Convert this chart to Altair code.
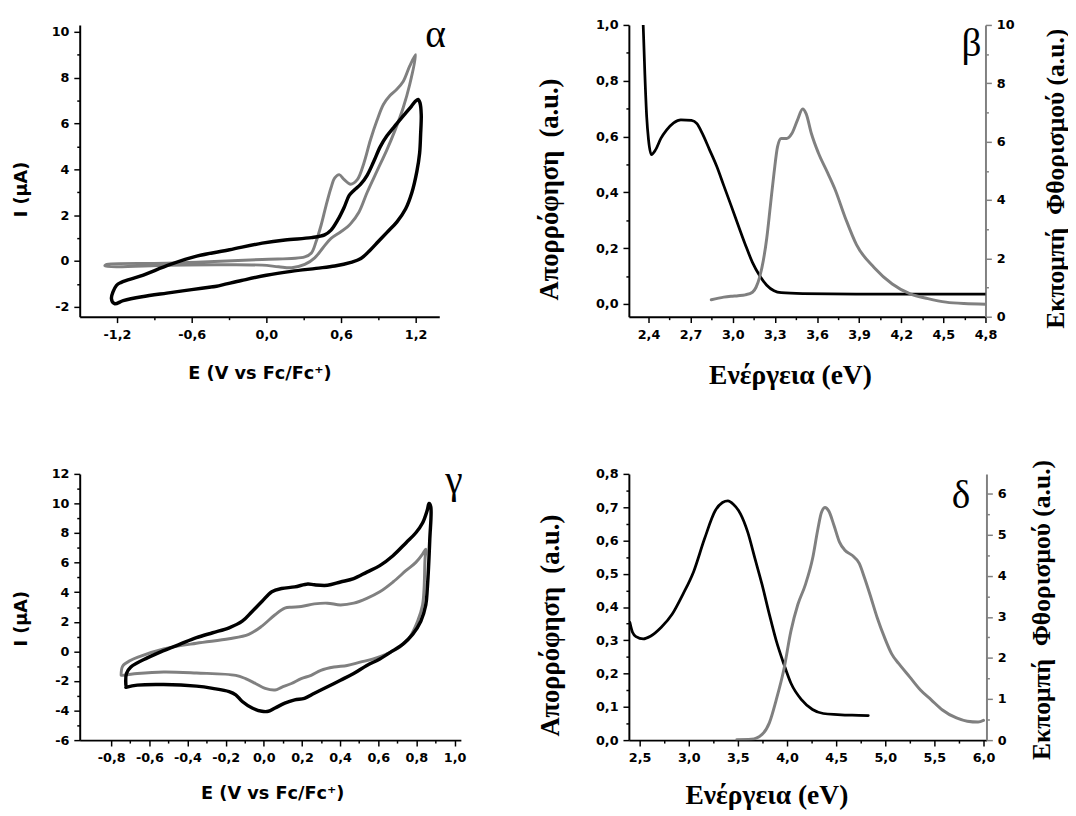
import altair as alt
import pandas as pd

BLACK = "#000000"
GRAY = "#808080"
SANS = "DejaVu Sans"
SERIF = "Liberation Serif"

# ---------------- panel α : cyclic voltammetry ----------------
A_BLACK_X = [-0.40, -0.60, -0.80, -1.00, -1.15, -1.22, -1.245, -1.205, -1.166, -1.008, -0.771, -0.560,
             -0.296, -0.033, 0.151, 0.362, 0.468, 0.520, 0.573, 0.626, 0.665, 0.705, 0.757, 0.810,
             0.863, 0.915, 0.968, 1.047, 1.113, 1.166, 1.200, 1.220, 1.235, 1.245, 1.240, 1.232,
             1.210, 1.170, 1.120, 1.050, 0.970, 0.900, 0.830, 0.760, 0.680, 0.550, 0.400, 0.200,
             0.000, -0.200, -0.400, -0.450]
A_BLACK_Y = [-1.10, -1.25, -1.40, -1.56, -1.73, -1.86, -1.64, -1.07, -0.93, -0.65, -0.15, 0.21,
             0.49, 0.78, 0.92, 1.02, 1.14, 1.35, 1.78, 2.35, 2.85, 3.09, 3.34, 3.74,
             4.34, 4.98, 5.45, 5.98, 6.41, 6.75, 6.98, 7.05, 6.90, 6.40, 5.51, 4.70,
             3.91, 2.99, 2.28, 1.71, 1.25, 0.85, 0.45, 0.11, -0.06, -0.22, -0.32, -0.45,
             -0.62, -0.85, -1.10, -1.14]
A_GRAY_X = [-0.40, -0.80, -1.297, -1.29, -0.80, -0.56, -0.033, 0.309, 0.362, 0.40, 0.44, 0.48,
            0.52, 0.55, 0.586, 0.626, 0.678, 0.731, 0.784, 0.836, 0.889, 0.942, 0.994, 1.047,
            1.10, 1.152, 1.20, 1.152, 1.10, 1.034, 0.968, 0.889, 0.81, 0.744, 0.678, 0.652,
            0.599, 0.52, 0.454, 0.389, 0.309, 0.204, 0.099, -0.033, -0.296, -0.40]
A_GRAY_Y = [-0.16, -0.19, -0.21, -0.16, -0.10, -0.05, 0.07, 0.18, 0.35, 0.85, 1.56, 2.42,
            3.20, 3.63, 3.77, 3.55, 3.35, 3.55, 4.27, 5.27, 6.13, 6.84, 7.22, 7.48,
            7.83, 8.50, 9.00, 7.69, 6.69, 5.70, 4.84, 3.92, 2.99, 2.13, 1.63, 1.49,
            1.28, 0.99, 0.57, 0.14, -0.15, -0.29, -0.25, -0.18, -0.16, -0.16]

# ---------------- panel β : absorption / emission ----------------
B_ABS_X = [2.358, 2.362, 2.374, 2.387, 2.400, 2.420, 2.451, 2.489, 2.528, 2.579, 2.630, 2.706,
           2.745, 2.783, 2.834, 2.885, 2.936, 2.987, 3.038, 3.089, 3.140, 3.191, 3.242, 3.294,
           3.345, 3.498, 4.008, 4.800]
B_ABS_Y = [1.05, 1.00, 0.822, 0.670, 0.588, 0.535, 0.553, 0.594, 0.623, 0.649, 0.660, 0.658,
           0.646, 0.611, 0.553, 0.494, 0.424, 0.354, 0.283, 0.213, 0.149, 0.102, 0.067, 0.047,
           0.040, 0.037, 0.035, 0.035]
B_EM_X = [2.847, 2.936, 2.987, 3.038, 3.089, 3.140, 3.166, 3.191, 3.217, 3.242, 3.268, 3.294,
          3.319, 3.345, 3.383, 3.421, 3.460, 3.498, 3.523, 3.560, 3.610, 3.676, 3.728, 3.804,
          3.881, 4.008, 4.136, 4.264, 4.390, 4.519, 4.647, 4.800]
B_EM_Y = [0.58, 0.67, 0.70, 0.72, 0.75, 0.84, 1.01, 1.35, 1.91, 2.69, 3.81, 4.93,
          5.83, 6.11, 6.11, 6.28, 6.73, 7.12, 6.95, 6.28, 5.61, 4.93, 4.37, 3.36,
          2.47, 1.68, 1.12, 0.78, 0.62, 0.50, 0.45, 0.43]

# ---------------- panel γ : cyclic voltammetry ----------------
G_BLACK_X = [-0.723, -0.720, -0.697, -0.611, -0.525, -0.439, -0.353, -0.268, -0.182, -0.113, -0.061, -0.010,
             0.042, 0.093, 0.162, 0.231, 0.265, 0.334, 0.402, 0.471, 0.540, 0.608, 0.677, 0.746,
             0.797, 0.832, 0.857, 0.866, 0.875, 0.870, 0.857, 0.849, 0.823, 0.780, 0.729, 0.677,
             0.608, 0.540, 0.471, 0.402, 0.334, 0.265, 0.213, 0.162, 0.110, 0.059, 0.024, -0.010,
             -0.061, -0.113, -0.147, -0.182, -0.268, -0.353, -0.525, -0.663, -0.723]
G_BLACK_Y = [-2.28, -1.50, -1.06, -0.44, 0.05, 0.49, 0.93, 1.26, 1.59, 2.04, 2.70, 3.37,
             4.03, 4.25, 4.36, 4.56, 4.50, 4.47, 4.69, 4.92, 5.36, 5.80, 6.47, 7.35,
             8.02, 8.68, 9.56, 10.0, 9.79, 7.57, 4.25, 3.14, 2.04, 1.15, 0.49, 0.05,
             -0.51, -0.95, -1.50, -1.95, -2.39, -2.83, -3.17, -3.28, -3.50, -3.83, -4.05, -4.05,
             -3.83, -3.39, -2.94, -2.72, -2.50, -2.35, -2.24, -2.28, -2.43]
G_GRAY_X = [-0.748, -0.740, -0.700, -0.663, -0.525, -0.353, -0.182, -0.079, -0.010, 0.059, 0.110, 0.145,
            0.196, 0.265, 0.334, 0.402, 0.471, 0.540, 0.608, 0.677, 0.746, 0.797, 0.832, 0.849,
            0.845, 0.840, 0.832, 0.806, 0.763, 0.711, 0.643, 0.574, 0.505, 0.437, 0.368, 0.299,
            0.248, 0.196, 0.145, 0.093, 0.059, 0.007, -0.044, -0.096, -0.147, -0.353, -0.525, -0.663,
            -0.740]
G_GRAY_Y = [-1.62, -1.00, -0.62, -0.40, 0.16, 0.55, 0.85, 1.15, 1.71, 2.48, 2.92, 2.99,
            3.03, 3.21, 3.26, 3.14, 3.26, 3.59, 4.03, 4.69, 5.47, 6.02, 6.58, 6.91,
            6.24, 4.25, 3.14, 2.04, 0.93, 0.27, -0.18, -0.51, -0.73, -0.95, -1.06, -1.28,
            -1.62, -1.84, -2.17, -2.43, -2.61, -2.50, -2.17, -1.84, -1.62, -1.46, -1.39, -1.50,
            -1.62]

# ---------------- panel δ : absorption / emission ----------------
D_ABS_X = [2.400, 2.427, 2.463, 2.537, 2.610, 2.720, 2.830, 2.940, 3.050, 3.160, 3.270, 3.343,
           3.398, 3.453, 3.526, 3.600, 3.673, 3.746, 3.820, 3.890, 3.966, 4.040, 4.149, 4.259,
           4.369, 4.515, 4.662, 4.827]
D_ABS_Y = [0.354, 0.324, 0.311, 0.304, 0.312, 0.339, 0.378, 0.438, 0.507, 0.605, 0.690, 0.714,
           0.719, 0.709, 0.680, 0.625, 0.546, 0.467, 0.378, 0.299, 0.230, 0.171, 0.121, 0.092,
           0.080, 0.077, 0.075, 0.074]
D_EM_X = [3.489, 3.636, 3.746, 3.820, 3.890, 3.966, 4.040, 4.110, 4.186, 4.260, 4.314, 4.350,
          4.387, 4.424, 4.479, 4.534, 4.589, 4.662, 4.735, 4.790, 4.845, 4.918, 4.992, 5.065,
          5.138, 5.248, 5.358, 5.468, 5.578, 5.725, 5.835, 5.945, 6.000]
D_EM_Y = [0.01, 0.02, 0.14, 0.42, 0.98, 1.70, 2.66, 3.30, 3.78, 4.42, 5.14, 5.54,
          5.66, 5.58, 5.22, 4.82, 4.62, 4.50, 4.30, 3.94, 3.54, 2.98, 2.50, 2.10,
          1.86, 1.54, 1.22, 0.98, 0.74, 0.54, 0.46, 0.44, 0.48]

# ---------------- panel letters ----------------
LETTERS = ["α", "β", "γ", "δ"]
LETTER_X = [1.36, 4.70, 0.997, 5.77]
LETTER_Y = [9.85, 0.932, 11.5, 0.732]

# ---------------- tick positions (major + minor) ----------------
A_XTICKS = [-1.2, -0.9, -0.6, -0.3, 0.0, 0.3, 0.6, 0.9, 1.2]
A_YTICKS = [-2, -1, 0, 1, 2, 3, 4, 5, 6, 7, 8, 9, 10]
B_XTICKS = [2.4, 2.55, 2.7, 2.85, 3.0, 3.15, 3.3, 3.45, 3.6, 3.75, 3.9, 4.05, 4.2, 4.35, 4.5, 4.65, 4.8]
B_YLTICKS = [0.0, 0.1, 0.2, 0.3, 0.4, 0.5, 0.6, 0.7, 0.8, 0.9, 1.0]
B_YRTICKS = [0, 1, 2, 3, 4, 5, 6, 7, 8, 9, 10]
G_XTICKS = [-0.8, -0.7, -0.6, -0.5, -0.4, -0.3, -0.2, -0.1, 0.0, 0.1, 0.2, 0.3, 0.4, 0.5, 0.6, 0.7,
            0.8, 0.9, 1.0]
G_YTICKS = [-6, -5, -4, -3, -2, -1, 0, 1, 2, 3, 4, 5, 6, 7, 8, 9, 10, 11, 12]
D_XTICKS = [2.5, 2.75, 3.0, 3.25, 3.5, 3.75, 4.0, 4.25, 4.5, 4.75, 5.0, 5.25, 5.5, 5.75, 6.0]
D_YLTICKS = [0.0, 0.05, 0.1, 0.15, 0.2, 0.25, 0.3, 0.35, 0.4, 0.45, 0.5, 0.55, 0.6, 0.65, 0.7, 0.75, 0.8]
D_YRTICKS = [0, 0.5, 1, 1.5, 2, 2.5, 3, 3.5, 4, 4.5, 5, 5.5, 6]

CV_XTITLE = "E (V vs Fc/Fc⁺)"
CV_YTITLE = "I (µA)"
SP_XTITLE = "Ενέργεια (eV)"
SP_YLTITLE = "Απορρόφηση\u00a0 (a.u.)"
SP_YRTITLE = "Εκπομπή\u00a0 Φθορισμού (a.u.)"


def make_axis(values, step, fmt, title, tfont, tsize, tx, ty, orient,
              line_color=BLACK, angle=0, pad=5):
    major = f"abs(datum.value / {step} - round(datum.value / {step})) < 0.000001"
    label = (f"({major}) ? replace(replace(format(datum.value, '{fmt}'), '.', ','), "
             f"'\u2212', '-') : ''")
    return alt.Axis(
        values=values, labelExpr=label, orient=orient,
        tickSize={"condition": {"test": major, "value": 6}, "value": 3},
        tickWidth=1.5, tickColor=line_color, domainColor=line_color, domainWidth=2,
        labelFont=SANS, labelFontSize=13, labelFontWeight="bold", labelColor=BLACK,
        labelPadding=pad, labelFlush=False, labelOverlap=False, grid=False,
        title=title, titleFont=tfont, titleFontSize=tsize, titleFontWeight="bold",
        titleColor=BLACK, titleX=tx, titleY=ty, titleAngle=angle,
        titleAlign="center", titleBaseline="middle", titleLimit=1000,
    )


def frame(xs, ys):
    return pd.DataFrame({"x": xs, "y": ys, "i": list(range(len(xs)))})


def letter_frame(k):
    return pd.DataFrame({"x": [LETTER_X[k]], "y": [LETTER_Y[k]], "t": [LETTERS[k]]})


def line(df, x, y, color, width, interp):
    return alt.Chart(df).mark_line(color=color, strokeWidth=width, strokeJoin="round",
                                   strokeCap="round", clip=True, interpolate=interp).encode(
        x=x, y=y, order="i:Q")


def letter(k, x, y):
    return alt.Chart(letter_frame(k)).mark_text(
        font=SERIF, fontSize=40, color=BLACK, align="center", baseline="middle").encode(
        x=x, y=y, text="t:N")


def sc(lo, hi):
    return alt.Scale(domain=[lo, hi], nice=False, zero=False)


LOOP = "catmull-rom"
SPEC = "monotone"

# ---- α ----
ax = alt.X("x:Q", scale=sc(-1.5, 1.39),
           axis=make_axis(A_XTICKS, 0.6, ".1f", CV_XTITLE, SANS, 18, 183, 58, "bottom", pad=6))
ay = alt.Y("y:Q", scale=sc(-2.43, 10.3),
           axis=make_axis(A_YTICKS, 2, "d", CV_YTITLE, SANS, 18, -59, 167, "left", angle=270))
panel_a = alt.layer(
    line(frame(A_GRAY_X, A_GRAY_Y), ax, ay, GRAY, 3, LOOP),
    line(frame(A_BLACK_X, A_BLACK_Y), ax, ay, BLACK, 3.5, LOOP),
    letter(0, ax, ay),
).properties(width=366, height=297)

# ---- β ----
bx = alt.X("x:Q", scale=sc(2.26, 4.8),
           axis=make_axis(B_XTICKS, 0.3, ".1f", SP_XTITLE, SERIF, 28, 164, 60, "bottom", pad=6))
byl = alt.Y("y:Q", scale=sc(-0.046, 1.0),
            axis=make_axis(B_YLTICKS, 0.2, ".1f", SP_YLTITLE, SERIF, 27, -81, 167, "left", angle=270))
byr = alt.Y("y:Q", scale=sc(0, 10),
            axis=make_axis(B_YRTICKS, 2, "d", SP_YRTITLE, SERIF, 26, 71, 156, "right",
                           line_color=GRAY, angle=270))
panel_b = alt.layer(
    alt.layer(line(frame(B_ABS_X, B_ABS_Y), bx, byl, BLACK, 2.8, SPEC), letter(1, bx, byl)),
    line(frame(B_EM_X, B_EM_Y), bx, byr, GRAY, 3, SPEC),
).resolve_scale(y="independent").properties(width=363, height=297)

# ---- γ ----
gx = alt.X("x:Q", scale=sc(-0.965, 1.033),
           axis=make_axis(G_XTICKS, 0.2, ".1f", CV_XTITLE, SANS, 18, 196, 54, "bottom", pad=6))
gy = alt.Y("y:Q", scale=sc(-6, 12),
           axis=make_axis(G_YTICKS, 2, "d", CV_YTITLE, SANS, 18, -59, 147, "left", angle=270))
panel_g = alt.layer(
    line(frame(G_GRAY_X, G_GRAY_Y), gx, gy, GRAY, 3, LOOP),
    line(frame(G_BLACK_X, G_BLACK_Y), gx, gy, BLACK, 3.5, LOOP),
    letter(2, gx, gy),
).properties(width=388, height=271)

# ---- δ ----
dx = alt.X("x:Q", scale=sc(2.39, 6.03),
           axis=make_axis(D_XTICKS, 0.5, ".1f", SP_XTITLE, SERIF, 28, 140, 57, "bottom", pad=6))
dyl = alt.Y("y:Q", scale=sc(0, 0.8),
            axis=make_axis(D_YLTICKS, 0.1, ".1f", SP_YLTITLE, SERIF, 27, -80, 154, "left", angle=270))
dyr = alt.Y("y:Q", scale=sc(0, 6.48),
            axis=make_axis(D_YRTICKS, 1, "d", SP_YRTITLE, SERIF, 26, 56, 138, "right",
                           line_color=GRAY, angle=270))
panel_d = alt.layer(
    alt.layer(line(frame(D_ABS_X, D_ABS_Y), dx, dyl, BLACK, 2.8, SPEC), letter(3, dx, dyl)),
    line(frame(D_EM_X, D_EM_Y), dx, dyr, GRAY, 3, SPEC),
).resolve_scale(y="independent").properties(width=364, height=271)

chart = alt.concat(
    panel_a, panel_b, panel_g, panel_d,
    columns=2, spacing={"row": 160, "column": 171}, bounds="flush", align="none",
).properties(
    padding={"left": 5, "top": 0, "right": 0, "bottom": 0},
).configure_view(stroke=None)

chart.save("out.html", embed_options={"renderer": "svg", "actions": False})
